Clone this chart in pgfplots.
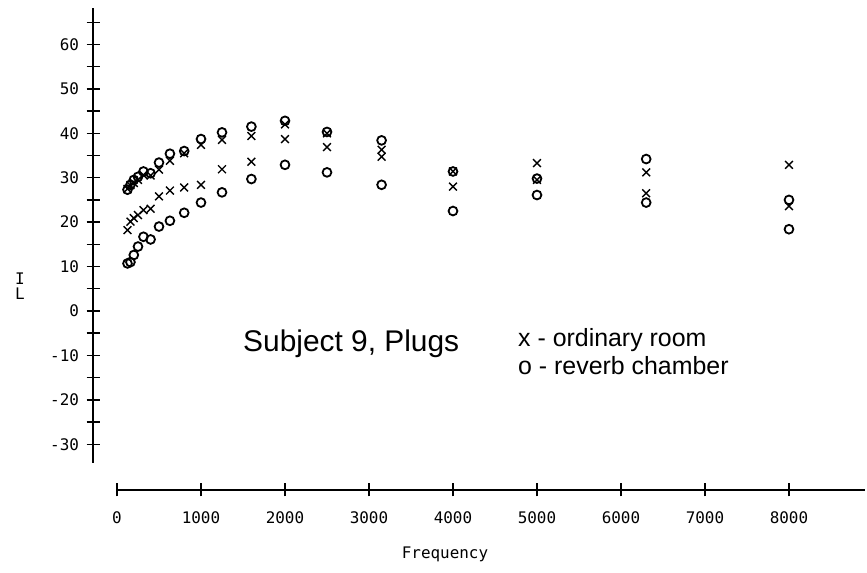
\documentclass[border=0pt]{standalone}
\usepackage{fontspec}
\setmainfont{Liberation Sans}
\newfontfamily\tickfont{DejaVu Sans Mono}
\usepackage{pgfplots}
\pgfplotsset{compat=1.18}

% x - ordinary room (two runs), o - reverb chamber (two runs)
\pgfplotstableread{
f     xa    xb    oa    ob
125   27.5  18.2  27.3  10.7
160   28.3  20.1  28.4  11.0
200   28.8  20.9  29.5  12.6
250   29.5  21.6  30.2  14.5
315   30.6  22.7  31.4  16.7
400   30.5  23.0  31.0  16.1
500   31.8  25.8  33.4  19.0
630   33.8  27.1  35.4  20.3
800   35.5  27.8  36.0  22.1
1000  37.4  28.4  38.7  24.4
1250  38.5  31.9  40.2  26.7
1600  39.4  33.6  41.5  29.7
2000  42.0  38.7  42.8  32.9
2500  40.0  36.9  40.3  31.2
3150  36.3  34.7  38.4  28.4
4000  31.4  28.0  31.4  22.5
5000  33.3  29.5  29.8  26.1
6300  31.2  26.5  34.2  24.4
8000  32.9  23.6  25.0  18.4
}\datatable

\begin{document}
\begin{tikzpicture}
\path[use as bounding box] (0bp,0bp) rectangle (867bp,573bp);
\begin{axis}[
    at={(93bp,83bp)}, anchor=south west,
    scale only axis, width=772bp, height=482bp,
    xmin=-285.7, xmax=8905, ymin=-40.3, ymax=68.2,
    axis x line=bottom, axis y line=left,
    axis line style={draw=none},
    clip=false,
    xtick={0,1000,...,8000},
    ytick={-30,-20,...,60},
    minor ytick={-25,-15,...,65},
    tick align=center,
    major tick length=13bp, minor tick length=13bp,
    every tick/.style={black, line width=1.4bp},
    scaled ticks=false,
    xticklabel={\pgfmathprintnumber[fixed,1000 sep={}]{\tick}},
    /pgf/number format/assume math mode=true,
    tick label style={font=\tickfont\fontsize{16}{18}\selectfont},
    yticklabel style={xshift=-4bp},
    xticklabel style={yshift=-12bp},
  ]
  \addplot[only marks, mark=x, mark size=5.5bp, line width=1.4bp] table[x=f,y=xa] {\datatable};
  \addplot[only marks, mark=x, mark size=5.5bp, line width=1.4bp] table[x=f,y=xb] {\datatable};
  \addplot[only marks, mark=o, mark size=4.4bp, line width=1.8bp] table[x=f,y=oa] {\datatable};
  \addplot[only marks, mark=o, mark size=4.4bp, line width=1.8bp] table[x=f,y=ob] {\datatable};
  \draw[line width=1.4bp] (axis cs:-285.7,-34.2) -- (axis cs:-285.7,68.2);
  \draw[line width=1.4bp] (axis cs:0,-40.3) -- (axis cs:8905,-40.3);
\end{axis}
\node[font=\tickfont\fontsize{16}{18}\selectfont, align=center, inner sep=0pt] at (20bp,287bp) {I\\[-3bp]L};
\node[font=\tickfont\fontsize{16}{18}\selectfont, inner sep=0pt] at (445bp,19bp) {Frequency};
\node[font=\fontsize{30}{34}\selectfont, anchor=base west, inner sep=0pt] at (243bp,221bp) {Subject 9, Plugs};
\node[font=\fontsize{25}{28}\selectfont, anchor=base west, inner sep=0pt] at (518bp,226bp) {x - ordinary room};
\node[font=\fontsize{25}{28}\selectfont, anchor=base west, inner sep=0pt] at (518bp,198bp) {o - reverb chamber};
\end{tikzpicture}
\end{document}
